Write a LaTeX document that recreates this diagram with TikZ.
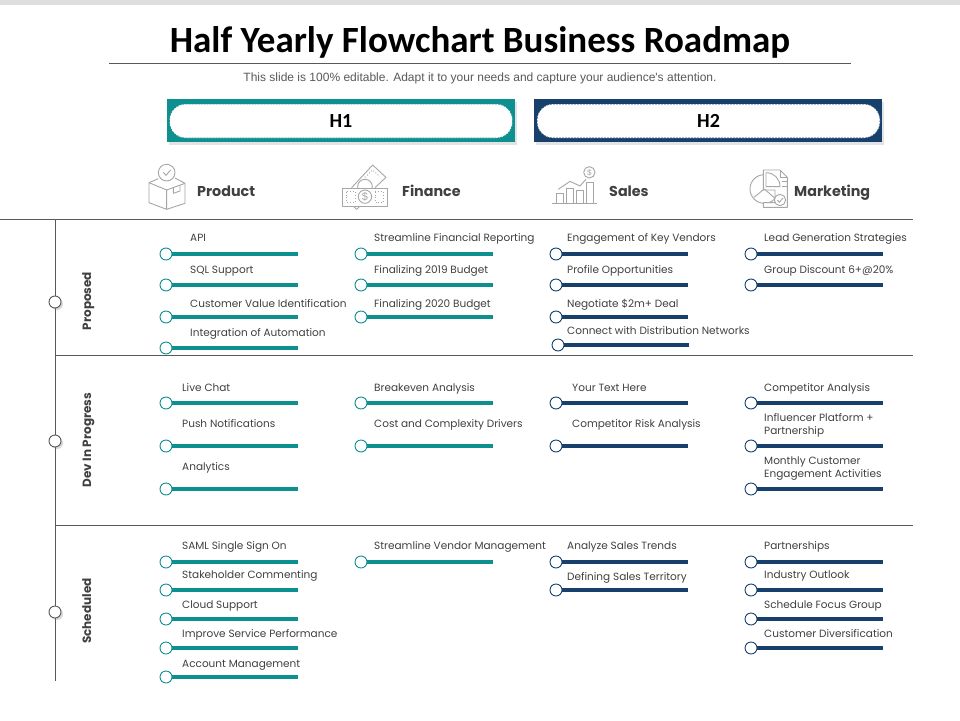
\documentclass[tikz,border=0pt]{standalone}
\usepackage{fontspec}
\setmainfont{Poppins}
\newfontfamily\titlefont{Carlito}
\newfontfamily\arialfont{Liberation Sans}
\usetikzlibrary{shadows}
\definecolor{tealc}{HTML}{0F9090}
\definecolor{navyc}{HTML}{17406D}
\definecolor{txtc}{HTML}{404040}
\definecolor{icoc}{HTML}{A6A6A6}
\definecolor{rulec}{HTML}{595959}
\tikzset{
  rulel/.style={draw=rulec,line width=0.9pt},
  band/.style={minimum width=348pt,minimum height=43pt,inner sep=0pt,drop shadow={shadow xshift=1.5pt,shadow yshift=-2.5pt,opacity=.22}},
  pill/.style={draw=#1,dashed,dash pattern=on 2pt off 1pt,line width=.6pt,fill=white,rounded corners=16pt,minimum width=343pt,minimum height=34pt,inner sep=0pt,font=\titlefont\bfseries\fontsize{20}{22}\selectfont,text=black},
  head/.style={anchor=west,inner sep=0pt,text=txtc,text height=11pt,text depth=3.5pt,font=\fontsize{14.3}{18}\selectfont\bfseries},
  rowlab/.style={rotate=90,inner sep=0pt,text=txtc,text height=9pt,text depth=3pt,font=\fontsize{12}{14}\selectfont\bfseries},
  dot/.style={circle,draw=#1,line width=.9pt,fill=white,minimum size=12pt,inner sep=0pt},
  bar/.style={draw=#1,line width=3.6pt},
  item/.style={anchor=west,align=left,inner sep=0pt,text=txtc,text height=8pt,text depth=2.5pt,font=\fontsize{10.5}{13}\selectfont},
  rowdot/.style={circle,draw=rulec,line width=.9pt,fill=white,minimum size=12pt,inner sep=0pt,drop shadow={shadow xshift=2pt,shadow yshift=-2pt,opacity=.3}},
  ico/.style={draw=icoc,line width=.9pt,line join=round},
}
\newcommand{\rmitem}[8]{%
  \node[dot=#5] (d#1) at (#2,#3) {};
  \coordinate (e#1) at (#4,#3);
  \draw[bar=#5] (d#1) -- (e#1);
  \node[item] (t#1) at (#6,#7+1.8) {#8};
}
\begin{document}
\begin{tikzpicture}[x=1pt,y=-1pt]
\useasboundingbox (0,0) rectangle (960,720);
\fill[white] (0,0) rectangle (960,720);
\fill[black!13] (0,0) rectangle (960,5);
% title
\node[inner sep=0pt,font=\titlefont\bfseries\fontsize{37}{40}\selectfont,text=black] (title) at (480,42.5) {Half Yearly Flowchart Business Roadmap};
\coordinate (tl) at (109,63); \coordinate (tr) at (851,63);
\draw[draw=rulec,line width=.6pt] (tl) -- (tr);
\node[inner sep=0pt,font=\arialfont\fontsize{12}{14}\selectfont,text=black!65] (sub) at (480,78.5) {This slide is 100\% editable. Adapt it to your needs and capture your audience's attention.};
% H bands
\node[band,fill=tealc] (b1) at (341,120.5) {};
\node[pill=tealc] (h1) at (341,121) {H1};
\node[band,fill=navyc] (b2) at (708,120.5) {};
\node[pill=navyc] (h2) at (708.5,121) {H2};
% headers
\node[head] (hp) at (197,193) {Product};
\node[head] (hf) at (402,193) {Finance};
\node[head] (hs) at (609,193) {Sales};
\node[head] (hm) at (794,193) {Marketing};
% product icon
\begin{scope}[shift={(130,90)},x=.3333pt,y=-.3333pt]
 \draw[ico] (57,278) -- (110,300) -- (110,358) -- (57,338) -- cycle;
 \draw[ico] (110,300) -- (165,280) -- (165,340) -- (110,358);
 \draw[ico] (57,278) -- (85,266);
 \draw[ico] (135,264) -- (165,280);
 \draw[ico] (130,292) -- (130,310) -- (150,303) -- (150,285);
 \draw[ico,fill=white] (110,248) circle (25);
 \draw[ico] (100,247) -- (108,256) -- (122,240);
\end{scope}
% finance icon
\begin{scope}[shift={(130,90)},x=.3333pt,y=-.3333pt]
 \draw[ico] (665,293) -- (728,225) -- (768,262) -- (735,293);
 \draw[ico,dotted] (705,262) -- (728,240) -- (750,260);
 \draw[ico] (705,290) circle (22);
 \draw[ico,fill=white] (637,295) rectangle (772,350);
 \draw[ico,dotted] (650,305) rectangle (675,338);
 \draw[ico,dotted] (735,305) rectangle (760,338);
 \draw[ico] (705,320) circle (20);
 \node[inner sep=0pt,text=icoc,font=\arialfont\fontsize{11}{11}\selectfont] (dollarf) at (705,320) {\$};
 \draw[ico] (672,350) -- (680,358) -- (688,350);
\end{scope}
% sales icon
\begin{scope}[shift={(530,90)},x=.3333pt,y=-.3333pt]
 \draw[ico] (67,341) -- (200,341);
 \draw[ico] (80,341) -- (80,310) -- (100,310) -- (100,341);
 \draw[ico] (110,341) -- (110,295) -- (130,295) -- (130,341);
 \draw[ico] (140,341) -- (140,300) -- (160,300) -- (160,341);
 \draw[ico] (168,341) -- (168,278) -- (190,278) -- (190,341);
 \draw[ico] (85,298) -- (120,274) -- (150,288) -- (168,268);
 \draw[ico] (178,247) circle (17);
 \node[inner sep=0pt,text=icoc,font=\arialfont\fontsize{8}{8}\selectfont] (dollars) at (178,247) {\$};
\end{scope}
% marketing icon
\begin{scope}[shift={(530,90)},x=.3333pt,y=-.3333pt]
 \draw[ico] (703,297) circle (43);
 \draw[ico,fill=white] (700,240) -- (750,240) -- (772,262) -- (772,352) -- (700,352) -- (700,338) -- (735,338) -- (735,300) -- (700,300) -- cycle;
 \draw[ico] (750,240) -- (750,262) -- (772,262);
 \draw[ico,fill=white] (708,248) -- (708,290) -- (750,290) .. controls (750,266) and (732,248) .. (708,248);
 \draw[ico] (703,297) -- (672,322);
 \draw[ico] (703,297) -- (735,325);
 \draw[ico] (755,275) -- (770,275);
 \draw[ico] (755,290) -- (770,290);
 \draw[ico,fill=white] (750,330) circle (17);
 \draw[ico] (742,330) -- (748,337) -- (759,324);
\end{scope}
% frame
\coordinate (r1a) at (0,219); \coordinate (r1b) at (913,219);
\coordinate (r2a) at (55,355); \coordinate (r2b) at (913,355);
\coordinate (r3a) at (55,525); \coordinate (r3b) at (913,525);
\coordinate (va) at (55,219); \coordinate (vb) at (55,681);
\draw[rulel] (r1a) -- (r1b);
\draw[rulel] (r2a) -- (r2b);
\draw[rulel] (r3a) -- (r3b);
\draw[rulel] (va) -- (vb);
\node[rowdot] (rd1) at (55,302) {};
\node[rowdot] (rd2) at (55,441) {};
\node[rowdot] (rd3) at (55,612) {};
\node[rowlab] (rl1) at (88,301) {Proposed};
\node[rowlab] (rl2) at (88,440) {Dev In Progress};
\node[rowlab] (rl3) at (88,611) {Scheduled};
% Proposed
\rmitem{a1}{166}{254}{298}{tealc}{190}{237}{API}
\rmitem{a2}{166}{285}{298}{tealc}{190}{269}{SQL Support}
\rmitem{a3}{166}{317}{298}{tealc}{190}{303}{Customer Value Identification}
\rmitem{a4}{166}{348}{298}{tealc}{190}{332}{Integration of Automation}
\rmitem{b1x}{361}{254}{493}{tealc}{374}{237}{Streamline Financial Reporting}
\rmitem{b2x}{361}{285}{493}{tealc}{374}{269}{Finalizing 2019 Budget}
\rmitem{b3x}{361}{317}{493}{tealc}{374}{303}{Finalizing 2020 Budget}
\rmitem{c1}{556}{254}{688}{navyc}{567}{237}{Engagement of Key Vendors}
\rmitem{c2}{556}{285}{688}{navyc}{567}{269}{Profile Opportunities}
\rmitem{c3}{556}{317}{688}{navyc}{567}{303}{Negotiate \$2m+ Deal}
\rmitem{c4}{558}{345}{689}{navyc}{567}{330}{Connect with Distribution Networks}
\rmitem{d1x}{751}{254}{883}{navyc}{764}{237}{Lead Generation Strategies}
\rmitem{d2x}{751}{285}{883}{navyc}{764}{269}{Group Discount 6+@20\%}
% Dev
\rmitem{e1x}{166}{403}{298}{tealc}{182}{387}{Live Chat}
\rmitem{e2x}{166}{446}{298}{tealc}{182}{423}{Push Notifications}
\rmitem{e3x}{166}{489}{298}{tealc}{182}{466}{Analytics}
\rmitem{f1}{361}{403}{493}{tealc}{374}{387}{Breakeven Analysis}
\rmitem{f2}{361}{446}{493}{tealc}{374}{423}{Cost and Complexity Drivers}
\rmitem{g1}{556}{403}{688}{navyc}{572}{387}{Your Text Here}
\rmitem{g2}{556}{446}{688}{navyc}{572}{423}{Competitor Risk Analysis}
\rmitem{h1x}{751}{403}{883}{navyc}{764}{387}{Competitor Analysis}
\rmitem{h2x}{751}{446}{883}{navyc}{764}{429.5}{Influencer Platform +\\Partnership}
\rmitem{h3x}{751}{489}{883}{navyc}{764}{472.5}{Monthly Customer\\Engagement Activities}
% Scheduled
\rmitem{i1}{166}{562}{298}{tealc}{182}{545}{SAML Single Sign On}
\rmitem{i2}{166}{590}{298}{tealc}{182}{574}{Stakeholder Commenting}
\rmitem{i3}{166}{619}{298}{tealc}{182}{604}{Cloud Support}
\rmitem{i4}{166}{648}{298}{tealc}{182}{633}{Improve Service Performance}
\rmitem{i5}{166}{677}{298}{tealc}{182}{663}{Account Management}
\rmitem{j1}{361}{562}{493}{tealc}{374}{545}{Streamline Vendor Management}
\rmitem{k1}{556}{562}{688}{navyc}{567}{545}{Analyze Sales Trends}
\rmitem{k2}{556}{590}{688}{navyc}{567}{576}{Defining Sales Territory}
\rmitem{l1}{751}{562}{883}{navyc}{764}{545}{Partnerships}
\rmitem{l2}{751}{590}{883}{navyc}{764}{574}{Industry Outlook}
\rmitem{l3}{751}{619}{883}{navyc}{764}{604}{Schedule Focus Group}
\rmitem{l4}{751}{648}{883}{navyc}{764}{633}{Customer Diversification}
\end{tikzpicture}
\end{document}
